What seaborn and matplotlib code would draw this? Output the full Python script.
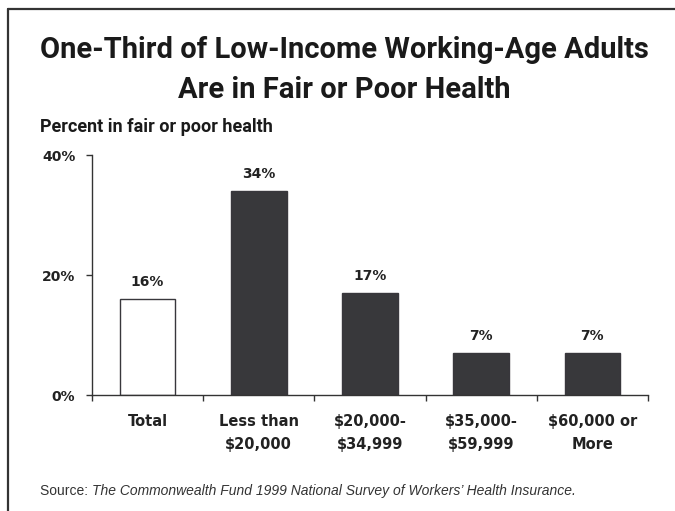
import matplotlib
matplotlib.use("Agg")
import matplotlib.pyplot as plt
import seaborn as sns
import pandas as pd
from matplotlib.lines import Line2D

categories = ["Total", "Less than\n$20,000", "$20,000-\n$34,999", "$35,000-\n$59,999", "$60,000 or\nMore"]
percent_fair_poor = [16, 34, 17, 7, 7]
y_ticks = [0, 20, 40]
y_tick_labels = ["0%", "20%", "40%"]

title_lines = ["One-Third of Low-Income Working-Age Adults", "Are in Fair or Poor Health"]
subtitle = "Percent in fair or poor health"
source_lead = "Source: "
source_body = "The Commonwealth Fund 1999 National Survey of Workers\u2019 Health Insurance."

sns.set_theme(style="white")
plt.rcParams["font.family"] = ["DejaVu Sans"]
narrow = ["Roboto", "DejaVu Sans"]
plain = ["Liberation Sans", "DejaVu Sans"]

dark = "#38373c"
face_colors = ["#ffffff", dark, dark, dark, dark]

df = pd.DataFrame({"group": categories, "pct": percent_fair_poor})

W, H = 675, 511
fig = plt.figure(figsize=(W / 100, H / 100), dpi=100)
ax = fig.add_axes([92 / W, 1 - 395 / H, (648 - 92) / W, (395 - 155) / H])

sns.barplot(data=df, x="group", y="pct", hue="group", palette=face_colors,
            legend=False, width=0.5, edgecolor=dark, linewidth=1.0, ax=ax)

ax.set_ylim(0, 40)
ax.set_xlim(-0.5, 4.5)
ax.set_xlabel("")
ax.set_ylabel("")

for side in ("top", "right"):
    ax.spines[side].set_visible(False)
for side in ("left", "bottom"):
    ax.spines[side].set_color("#333333")
    ax.spines[side].set_linewidth(1.0)

ax.set_yticks(y_ticks)
ax.set_yticklabels(y_tick_labels, fontsize=10, fontweight="bold", color="#222222")
ax.tick_params(axis="y", direction="out", length=4, width=1, color="#333333", pad=8, left=True)

ax.set_xticks(range(len(categories)))
ax.set_xticklabels(categories, fontsize=10.5, fontweight="bold", color="#222222",
                   linespacing=1.65, va="top", parse_math=False)
ax.tick_params(axis="x", which="major", length=0, pad=14)
ax.set_xticks([i - 0.5 for i in range(len(categories) + 1)], minor=True)
ax.tick_params(axis="x", which="minor", direction="out", length=4, width=1,
               color="#333333", bottom=True)

for container in ax.containers:
    ax.bar_label(container, labels=[f"{v:g}%" for v in container.datavalues],
                 padding=7, fontsize=10, fontweight="bold", color="#222222")

# two-line headline
for text, base in zip(title_lines, (58, 98)):
    fig.text(344 / W, 1 - base / H, text, ha="center", va="baseline", fontsize=21,
             fontweight="bold", family=narrow, color="#1a1a1a")
fig.text(40 / W, 1 - 127 / H, subtitle, ha="left", va="center", fontsize=13,
         fontweight="bold", family=narrow, color="#1a1a1a")

lead = fig.text(40 / W, 1 - 491 / H, source_lead, ha="left", va="center", fontsize=10,
                color="#333333", family=plain)
fig.canvas.draw()
bb = lead.get_window_extent()
fig.text(bb.x1 / W, 1 - 491 / H, source_body, ha="left", va="center", fontsize=10,
         style="italic", color="#333333", family=plain)

# frame along the top and left edges
fig.add_artist(Line2D([7.5 / W, 7.5 / W], [0, 1 - 9 / H], transform=fig.transFigure,
                      color="#333333", linewidth=1.6))
fig.add_artist(Line2D([7.5 / W, 1], [1 - 9 / H, 1 - 9 / H], transform=fig.transFigure,
                      color="#333333", linewidth=1.6))

fig.savefig("out.png", dpi=100)
